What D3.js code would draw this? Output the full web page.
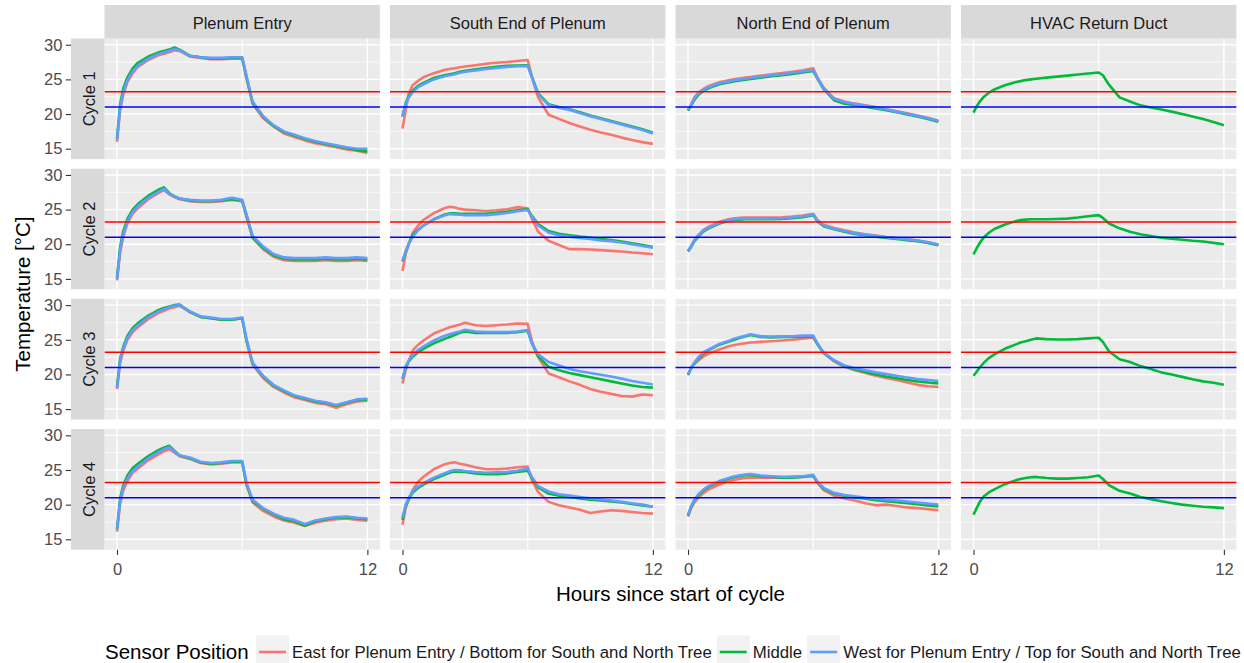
<!DOCTYPE html>
<html>
<head>
<meta charset="utf-8">
<script src="https://cdn.jsdelivr.net/npm/d3@7"></script>
<style>
  body { margin: 0; background: #fff; }
  svg { display: block; font-family: "Liberation Sans", Arial, sans-serif; }
</style>
</head>
<body>
<svg id="chart" width="1244" height="663"></svg>
<script>
// hours since start of cycle, shared by every series
const hours = [0, 0.15, 0.3, 0.5, 0.75, 1, 1.5, 2, 2.25, 2.5, 2.75, 3, 3.5, 4, 4.5, 5, 5.5, 6, 6.2, 6.5, 7, 7.5, 8, 8.5, 9, 9.5, 10, 10.5, 11, 11.5, 12];

const cycles = ["Cycle 1", "Cycle 2", "Cycle 3", "Cycle 4"];
const locations = ["Plenum Entry", "South End of Plenum", "North End of Plenum", "HVAC Return Duct"];
const sensors = [
  "East for Plenum Entry / Bottom for South and North Tree",
  "Middle",
  "West for Plenum Entry / Top for South and North Tree"
];
const sensorColors = ["#F8766D", "#00BA38", "#619CFF"];
const setpoints = [23.2, 21];
const setpointColors = ["#FF0000", "#0000FF"];
const yTicks = [15, 20, 25, 30];
const yMinor = [17.5, 22.5, 27.5];
const xTicks = [0, 12];
const xMinor = [6];

// temperatures, one row per cycle
const entryEast = [
  [16.0, 20.6, 22.8, 24.6, 25.9, 26.8, 27.8, 28.5, 28.7, 28.9, 29.2, 29.1, 28.3, 28.1, 27.9, 27.9, 28.0, 28.0, 25.2, 21.5, 19.4, 18.2, 17.2, 16.7, 16.2, 15.8, 15.5, 15.2, 14.9, 14.7, 14.4],
  [14.8, 18.8, 21.1, 23.0, 24.4, 25.2, 26.5, 27.4, 27.8, 27.2, 26.8, 26.5, 26.2, 26.1, 26.1, 26.2, 26.4, 26.2, 24.0, 20.9, 19.3, 18.2, 17.7, 17.6, 17.6, 17.6, 17.7, 17.6, 17.6, 17.7, 17.6],
  [17.9, 21.7, 23.4, 25.0, 26.1, 26.8, 28.0, 28.9, 29.2, 29.5, 29.7, 29.9, 29.0, 28.3, 28.1, 27.9, 27.9, 28.1, 24.9, 21.4, 19.5, 18.2, 17.4, 16.7, 16.3, 15.9, 15.7, 15.2, 15.7, 16.1, 16.2],
  [16.1, 20.2, 22.0, 23.4, 24.6, 25.2, 26.4, 27.3, 27.7, 28.0, 27.5, 27.0, 26.6, 26.0, 25.8, 25.9, 26.1, 26.1, 22.9, 20.3, 19.1, 18.3, 17.7, 17.4, 16.9, 17.4, 17.7, 17.9, 18.0, 17.8, 17.7]
];
const entryMiddle = [
  [16.5, 21.4, 23.7, 25.3, 26.6, 27.4, 28.3, 28.9, 29.1, 29.3, 29.6, 29.3, 28.4, 28.2, 28.0, 28.0, 28.1, 28.1, 25.4, 21.6, 19.6, 18.3, 17.4, 16.9, 16.4, 16.0, 15.7, 15.4, 15.1, 14.8, 14.6],
  [15.2, 19.6, 21.9, 23.7, 25.0, 25.8, 27.0, 27.9, 28.2, 27.4, 26.9, 26.6, 26.3, 26.2, 26.2, 26.3, 26.5, 26.3, 24.2, 21.0, 19.5, 18.4, 17.9, 17.8, 17.8, 17.8, 17.9, 17.8, 17.8, 17.9, 17.8],
  [18.2, 22.3, 24.0, 25.6, 26.7, 27.4, 28.5, 29.3, 29.6, 29.8, 30.0, 30.1, 29.0, 28.3, 28.1, 27.9, 27.9, 28.1, 25.0, 21.6, 19.7, 18.4, 17.6, 16.9, 16.5, 16.1, 15.9, 15.5, 15.9, 16.3, 16.4],
  [16.5, 20.9, 22.8, 24.2, 25.3, 25.9, 27.0, 27.9, 28.2, 28.5, 27.8, 27.1, 26.7, 26.1, 25.9, 26.0, 26.2, 26.2, 23.0, 20.5, 19.4, 18.6, 17.9, 17.6, 17.0, 17.6, 17.9, 18.1, 18.2, 18.0, 17.9]
];
const entryWest = [
  [16.3, 21.0, 23.2, 24.9, 26.2, 27.0, 28.0, 28.7, 28.9, 29.1, 29.4, 29.2, 28.4, 28.2, 28.1, 28.1, 28.2, 28.2, 25.6, 21.8, 19.7, 18.4, 17.5, 17.0, 16.5, 16.1, 15.8, 15.5, 15.2, 15.0, 15.0],
  [15.0, 19.2, 21.5, 23.3, 24.7, 25.5, 26.7, 27.6, 28.0, 27.3, 26.9, 26.6, 26.4, 26.3, 26.3, 26.4, 26.7, 26.4, 24.4, 21.2, 19.7, 18.6, 18.1, 18.0, 18.0, 18.0, 18.1, 18.0, 18.0, 18.1, 18.0],
  [18.1, 22.0, 23.7, 25.3, 26.4, 27.1, 28.3, 29.1, 29.4, 29.7, 29.9, 30.0, 29.1, 28.4, 28.2, 28.0, 28.0, 28.2, 25.2, 21.7, 19.8, 18.5, 17.7, 17.0, 16.6, 16.2, 16.0, 15.6, 16.0, 16.4, 16.5],
  [16.4, 20.5, 22.4, 23.8, 24.9, 25.5, 26.7, 27.6, 28.0, 28.3, 27.7, 27.1, 26.8, 26.2, 26.0, 26.1, 26.3, 26.3, 23.2, 20.7, 19.5, 18.7, 18.1, 17.8, 17.2, 17.7, 18.0, 18.2, 18.3, 18.1, 18.0]
];

const southEast = [
  [17.9, 20.5, 23.0, 24.2, 24.8, 25.3, 25.9, 26.35, 26.5, 26.6, 26.75, 26.85, 27.05, 27.25, 27.4, 27.5, 27.65, 27.8, 25.4, 22.4, 19.9, 19.3, 18.7, 18.2, 17.75, 17.35, 17.0, 16.6, 16.25, 15.95, 15.7],
  [16.15, 18.6, 20.0, 21.7, 22.7, 23.5, 24.5, 25.2, 25.4, 25.3, 25.1, 25.0, 24.9, 24.8, 24.9, 25.05, 25.35, 25.2, 23.7, 21.8, 20.5, 19.9, 19.3, 19.3, 19.25, 19.15, 19.05, 18.95, 18.8, 18.7, 18.55],
  [18.7, 20.6, 22.0, 23.5, 24.3, 24.9, 25.9, 26.5, 26.8, 27.0, 27.2, 27.45, 27.1, 27.0, 27.1, 27.2, 27.35, 27.3, 24.8, 22.5, 20.15, 19.6, 19.0, 18.5, 17.9, 17.5, 17.2, 16.9, 16.8, 17.1, 17.0],
  [17.1, 19.5, 20.8, 22.2, 23.3, 24.0, 25.1, 25.8, 26.0, 26.1, 25.9, 25.75, 25.4, 25.1, 25.1, 25.2, 25.4, 25.5, 23.6, 21.8, 20.4, 19.9, 19.6, 19.25, 18.8, 19.0, 19.2, 19.1, 18.95, 18.8, 18.7]
];
const southMiddle = [
  [19.7, 21.6, 22.6, 23.4, 24.1, 24.5, 25.2, 25.6, 25.75, 25.9, 26.1, 26.25, 26.45, 26.65, 26.8, 26.95, 27.0, 27.05, 25.4, 23.0, 21.4, 21.0, 20.7, 20.25, 19.8, 19.4, 19.0, 18.6, 18.2, 17.8, 17.3],
  [17.5, 18.9, 20.1, 21.4, 22.1, 22.7, 23.6, 24.25, 24.45, 24.45, 24.4, 24.4, 24.4, 24.4, 24.55, 24.7, 24.9, 25.05, 24.1, 22.9, 21.9, 21.5, 21.3, 21.1, 20.95, 20.75, 20.6, 20.4, 20.15, 19.9, 19.6],
  [19.4, 21.0, 21.9, 22.6, 23.2, 23.7, 24.5, 25.1, 25.4, 25.7, 26.0, 26.2, 26.0, 26.0, 26.0, 26.0, 26.1, 26.3, 24.5, 22.6, 21.1, 20.6, 20.2, 19.9, 19.6, 19.3, 19.0, 18.7, 18.4, 18.2, 18.1],
  [17.8, 19.8, 20.8, 21.8, 22.4, 22.9, 23.7, 24.3, 24.6, 24.8, 24.75, 24.7, 24.5, 24.4, 24.4, 24.5, 24.7, 24.9, 23.8, 22.5, 21.6, 21.3, 21.1, 20.9, 20.7, 20.6, 20.45, 20.3, 20.1, 19.9, 19.7]
];
const southWest = [
  [19.6, 21.4, 22.4, 23.2, 23.9, 24.3, 25.0, 25.45, 25.6, 25.75, 25.95, 26.1, 26.3, 26.5, 26.65, 26.8, 26.9, 26.95, 25.3, 22.9, 21.3, 20.9, 20.6, 20.15, 19.7, 19.3, 18.9, 18.5, 18.1, 17.7, 17.2],
  [17.6, 19.0, 20.1, 21.1, 22.05, 22.7, 23.6, 24.15, 24.35, 24.3, 24.25, 24.2, 24.2, 24.2, 24.35, 24.5, 24.75, 24.95, 24.0, 22.7, 21.7, 21.3, 21.1, 20.9, 20.75, 20.55, 20.45, 20.25, 20.0, 19.75, 19.5],
  [19.3, 21.2, 22.0, 22.8, 23.55, 24.0, 24.9, 25.55, 25.8, 26.0, 26.2, 26.45, 26.2, 26.1, 26.1, 26.1, 26.2, 26.4, 24.5, 22.9, 21.8, 21.3, 20.8, 20.45, 20.2, 19.95, 19.7, 19.4, 19.05, 18.8, 18.55],
  [18.1, 20.0, 21.0, 22.0, 22.6, 23.1, 23.9, 24.5, 24.8, 25.0, 24.95, 24.85, 24.7, 24.6, 24.65, 24.7, 24.9, 25.2, 24.0, 22.65, 21.9, 21.5, 21.3, 21.1, 20.9, 20.75, 20.6, 20.4, 20.2, 20.0, 19.7]
];

const northEast = [
  [20.5, 21.4, 22.4, 23.1, 23.65, 24.05, 24.6, 24.9, 25.05, 25.15, 25.25, 25.35, 25.55, 25.75, 25.9, 26.1, 26.3, 26.6, 25.3, 23.8, 22.3, 21.8, 21.5, 21.25, 21.0, 20.7, 20.4, 20.1, 19.8, 19.45, 19.05],
  [19.0, 19.8, 20.6, 21.35, 22.1, 22.55, 23.25, 23.65, 23.75, 23.8, 23.85, 23.85, 23.85, 23.85, 23.9, 24.0, 24.15, 24.4, 23.5, 22.8, 22.35, 22.0, 21.7, 21.45, 21.25, 21.05, 20.9, 20.75, 20.55, 20.3, 19.95],
  [20.0, 20.9, 21.5, 22.0, 22.6, 23.0, 23.6, 24.1, 24.25, 24.4, 24.5, 24.6, 24.7, 24.8, 24.9, 25.0, 25.15, 25.3, 24.4, 23.1, 21.9, 21.1, 20.6, 20.2, 19.8, 19.5, 19.2, 18.85, 18.5, 18.3, 18.2],
  [18.3, 19.5, 20.3, 21.0, 21.7, 22.2, 22.9, 23.4, 23.6, 23.75, 23.85, 23.9, 23.9, 23.9, 23.9, 24.0, 24.05, 24.1, 23.2, 22.1, 21.3, 20.9, 20.6, 20.2, 19.9, 20.0, 19.8, 19.6, 19.5, 19.35, 19.2]
];
const northMiddle = [
  [20.5, 21.2, 22.0, 22.8, 23.35, 23.75, 24.3, 24.6, 24.75, 24.85, 24.95, 25.05, 25.25, 25.45, 25.6, 25.8, 26.0, 26.2, 25.1, 23.6, 22.0, 21.5, 21.3, 21.05, 20.8, 20.55, 20.25, 19.95, 19.65, 19.3, 18.9],
  [18.95, 19.6, 20.4, 21.1, 21.85, 22.3, 23.0, 23.4, 23.5, 23.55, 23.6, 23.6, 23.6, 23.6, 23.65, 23.75, 23.9, 24.2, 23.3, 22.6, 22.15, 21.8, 21.5, 21.3, 21.1, 20.9, 20.75, 20.6, 20.45, 20.2, 19.85],
  [19.9, 20.9, 21.6, 22.3, 23.0, 23.5, 24.3, 24.8, 25.05, 25.3, 25.5, 25.7, 25.4, 25.35, 25.4, 25.4, 25.45, 25.5, 24.4, 23.1, 22.0, 21.2, 20.7, 20.35, 20.0, 19.7, 19.45, 19.2, 19.0, 18.85, 18.7],
  [18.4, 19.7, 20.6, 21.4, 22.1, 22.6, 23.3, 23.8, 24.0, 24.15, 24.25, 24.3, 24.1, 24.0, 23.9, 23.9, 24.0, 24.2, 23.2, 22.3, 21.6, 21.3, 21.05, 20.85, 20.65, 20.5, 20.35, 20.2, 20.05, 19.9, 19.75]
];
const northWest = [
  [20.6, 21.3, 22.2, 22.95, 23.5, 23.9, 24.45, 24.75, 24.9, 25.0, 25.1, 25.2, 25.4, 25.6, 25.75, 25.95, 26.15, 26.35, 25.2, 23.7, 22.2, 21.7, 21.45, 21.2, 20.95, 20.65, 20.35, 20.05, 19.75, 19.4, 19.0],
  [19.05, 19.7, 20.5, 21.2, 21.95, 22.4, 23.1, 23.5, 23.6, 23.65, 23.7, 23.7, 23.7, 23.7, 23.75, 23.85, 24.0, 24.3, 23.4, 22.7, 22.25, 21.9, 21.6, 21.4, 21.2, 21.0, 20.85, 20.7, 20.55, 20.3, 19.95],
  [20.0, 21.0, 21.7, 22.5, 23.2, 23.6, 24.4, 24.9, 25.2, 25.4, 25.6, 25.8, 25.5, 25.45, 25.5, 25.5, 25.6, 25.6, 24.5, 23.15, 22.05, 21.3, 20.9, 20.6, 20.3, 20.05, 19.8, 19.55, 19.35, 19.2, 19.05],
  [18.5, 19.8, 20.7, 21.5, 22.2, 22.7, 23.4, 23.9, 24.1, 24.25, 24.35, 24.4, 24.2, 24.1, 24.0, 24.0, 24.1, 24.3, 23.3, 22.4, 21.7, 21.4, 21.2, 21.0, 20.85, 20.7, 20.6, 20.45, 20.3, 20.15, 20.0]
];

const hvacMiddle = [
  [20.2, 21.1, 21.8, 22.5, 23.1, 23.55, 24.15, 24.6, 24.75, 24.9, 25.0, 25.1, 25.25, 25.4, 25.55, 25.7, 25.85, 26.0, 25.6, 24.2, 22.4, 21.8, 21.25, 20.95, 20.65, 20.35, 20.0, 19.65, 19.3, 18.85, 18.4],
  [18.55, 19.4, 20.2, 21.0, 21.7, 22.2, 22.85, 23.3, 23.5, 23.55, 23.6, 23.6, 23.6, 23.65, 23.7, 23.85, 24.05, 24.2, 23.8, 23.0, 22.3, 21.8, 21.45, 21.2, 20.95, 20.8, 20.65, 20.5, 20.4, 20.2, 20.0],
  [19.8, 20.4, 21.0, 21.7, 22.4, 22.9, 23.7, 24.3, 24.6, 24.8, 25.0, 25.2, 25.1, 25.05, 25.05, 25.1, 25.2, 25.3, 24.7, 23.3, 22.2, 21.8, 21.2, 20.8, 20.3, 20.0, 19.65, 19.3, 19.0, 18.8, 18.5],
  [18.55, 19.5, 20.4, 21.2, 21.8, 22.2, 22.95, 23.5, 23.7, 23.85, 23.95, 24.0, 23.85, 23.75, 23.75, 23.85, 23.95, 24.2, 23.7, 22.8, 22.0, 21.6, 21.1, 20.8, 20.5, 20.25, 20.0, 19.85, 19.7, 19.6, 19.5]
];

// sensor order: east, middle, west (HVAC duct only has the middle sensor)
const seriesByLocation = {
  "Plenum Entry": [entryEast, entryMiddle, entryWest],
  "South End of Plenum": [southEast, southMiddle, southWest],
  "North End of Plenum": [northEast, northMiddle, northWest],
  "HVAC Return Duct": [null, hvacMiddle, null]
};

const svg = d3.select("#chart");
const panelLeft = 104.5, panelRight = 1236.4;
const panelTop = 38.5, panelBottom = 549.7;
const stripH = 33.5, stripW = 33.5;
const tickLen = 5.2;
const textGrey = "#4D4D4D";

const col = d3.scaleBand().domain(locations).range([panelLeft, panelRight]).paddingInner(0.0354);
const row = d3.scaleBand().domain(cycles).range([panelTop, panelBottom]).paddingInner(0.0737);

const x = d3.scaleLinear().domain([-0.6, 12.6]).range([0, col.bandwidth()]);
const y = d3.scaleLinear().domain([13.5, 30.9]).range([row.bandwidth(), 0]);

const line = d3.line()
  .x((d, i) => x(hours[i]))
  .y(d => y(d));

cycles.forEach((cyc, ri) => {
  locations.forEach((loc, ci) => {
    const g = svg.append("g")
      .attr("transform", `translate(${col(loc)},${row(cyc)})`);

    g.append("rect")
      .attr("width", col.bandwidth())
      .attr("height", row.bandwidth())
      .attr("fill", "#EBEBEB");

    // grid
    g.selectAll(".ymin").data(yMinor).join("line")
      .attr("x1", 0).attr("x2", col.bandwidth())
      .attr("y1", d => y(d)).attr("y2", d => y(d))
      .attr("stroke", "#fff").attr("stroke-width", 0.7);
    g.selectAll(".xmin").data(xMinor).join("line")
      .attr("y1", 0).attr("y2", row.bandwidth())
      .attr("x1", d => x(d)).attr("x2", d => x(d))
      .attr("stroke", "#fff").attr("stroke-width", 1.1);
    g.selectAll(".ymaj").data(yTicks).join("line")
      .attr("x1", 0).attr("x2", col.bandwidth())
      .attr("y1", d => y(d)).attr("y2", d => y(d))
      .attr("stroke", "#fff").attr("stroke-width", 1.4);
    g.selectAll(".xmaj").data(xTicks).join("line")
      .attr("y1", 0).attr("y2", row.bandwidth())
      .attr("x1", d => x(d)).attr("x2", d => x(d))
      .attr("stroke", "#fff").attr("stroke-width", 1.4);

    // sensor lines
    seriesByLocation[loc].forEach((s, si) => {
      if (!s) return;
      g.append("path")
        .datum(s[ri])
        .attr("d", line)
        .attr("fill", "none")
        .attr("stroke", sensorColors[si])
        .attr("stroke-width", 2.6)
        .attr("stroke-linejoin", "round");
    });

    // comfort band limits
    setpoints.forEach((v, k) => {
      g.append("line")
        .attr("x1", 0).attr("x2", col.bandwidth())
        .attr("y1", y(v)).attr("y2", y(v))
        .attr("stroke", setpointColors[k])
        .attr("stroke-width", 1.5);
    });

    // top strips
    if (ri === 0) {
      svg.append("rect")
        .attr("x", col(loc)).attr("y", panelTop - stripH)
        .attr("width", col.bandwidth()).attr("height", stripH)
        .attr("fill", "#D9D9D9");
      svg.append("text")
        .attr("x", col(loc) + col.bandwidth() / 2)
        .attr("y", panelTop - stripH / 2 + 1.5)
        .attr("dy", "0.36em")
        .attr("text-anchor", "middle")
        .attr("font-size", 16.5)
        .attr("fill", "#1A1A1A")
        .text(loc);
    }

    // x axis on bottom row
    if (ri === cycles.length - 1) {
      const ax = svg.append("g")
        .attr("transform", `translate(${col(loc)},${panelBottom})`)
        .call(d3.axisBottom(x).tickValues(xTicks).tickSize(tickLen).tickPadding(8));
      ax.select(".domain").remove();
      ax.selectAll("line").attr("stroke", "#333333").attr("stroke-width", 1.1);
      ax.selectAll("text").attr("font-size", 16.5).attr("fill", textGrey)
        .attr("font-family", "Liberation Sans, Arial, sans-serif");
    }
  });

  // left strips
  svg.append("rect")
    .attr("x", panelLeft - stripW).attr("y", row(cyc))
    .attr("width", stripW).attr("height", row.bandwidth())
    .attr("fill", "#D9D9D9");
  svg.append("text")
    .attr("transform", `translate(${panelLeft - stripW / 2 + 1.5},${row(cyc) + row.bandwidth() / 2}) rotate(-90)`)
    .attr("dy", "0.36em")
    .attr("text-anchor", "middle")
    .attr("font-size", 16.5)
    .attr("fill", "#1A1A1A")
    .text(cyc);

  // y axis
  const ay = svg.append("g")
    .attr("transform", `translate(${panelLeft - stripW},${row(cyc)})`)
    .call(d3.axisLeft(y).tickValues(yTicks).tickSize(tickLen).tickPadding(3.5));
  ay.select(".domain").remove();
  ay.selectAll("line").attr("stroke", "#333333").attr("stroke-width", 1.1);
  ay.selectAll("text").attr("font-size", 16.5).attr("fill", textGrey)
    .attr("font-family", "Liberation Sans, Arial, sans-serif");
});

// axis titles
svg.append("text")
  .attr("x", (panelLeft + panelRight) / 2)
  .attr("y", 600.5)
  .attr("text-anchor", "middle")
  .attr("font-size", 20.5)
  .text("Hours since start of cycle");

svg.append("text")
  .attr("transform", `translate(29.5,${(panelTop + panelBottom) / 2}) rotate(-90)`)
  .attr("text-anchor", "middle")
  .attr("font-size", 20.5)
  .text("Temperature [°C]");

// legend
const legendY = 652;
const legend = svg.append("g");
legend.append("text")
  .attr("x", 105).attr("y", legendY)
  .attr("dy", "0.36em")
  .attr("font-size", 20.5)
  .text("Sensor Position");

let lx = 256;
sensors.forEach((name, i) => {
  legend.append("rect")
    .attr("x", lx).attr("y", legendY - 16.5)
    .attr("width", 33).attr("height", 33)
    .attr("fill", "#F2F2F2");
  legend.append("line")
    .attr("x1", lx + 3).attr("x2", lx + 30)
    .attr("y1", legendY).attr("y2", legendY)
    .attr("stroke", sensorColors[i])
    .attr("stroke-width", 2.6);
  const t = legend.append("text")
    .attr("x", lx + 36).attr("y", legendY)
    .attr("dy", "0.36em")
    .attr("font-size", 16.8)
    .attr("fill", "#1A1A1A")
    .text(name);
  lx += 36 + t.node().getComputedTextLength() + 5;
});
</script>
</body>
</html>
